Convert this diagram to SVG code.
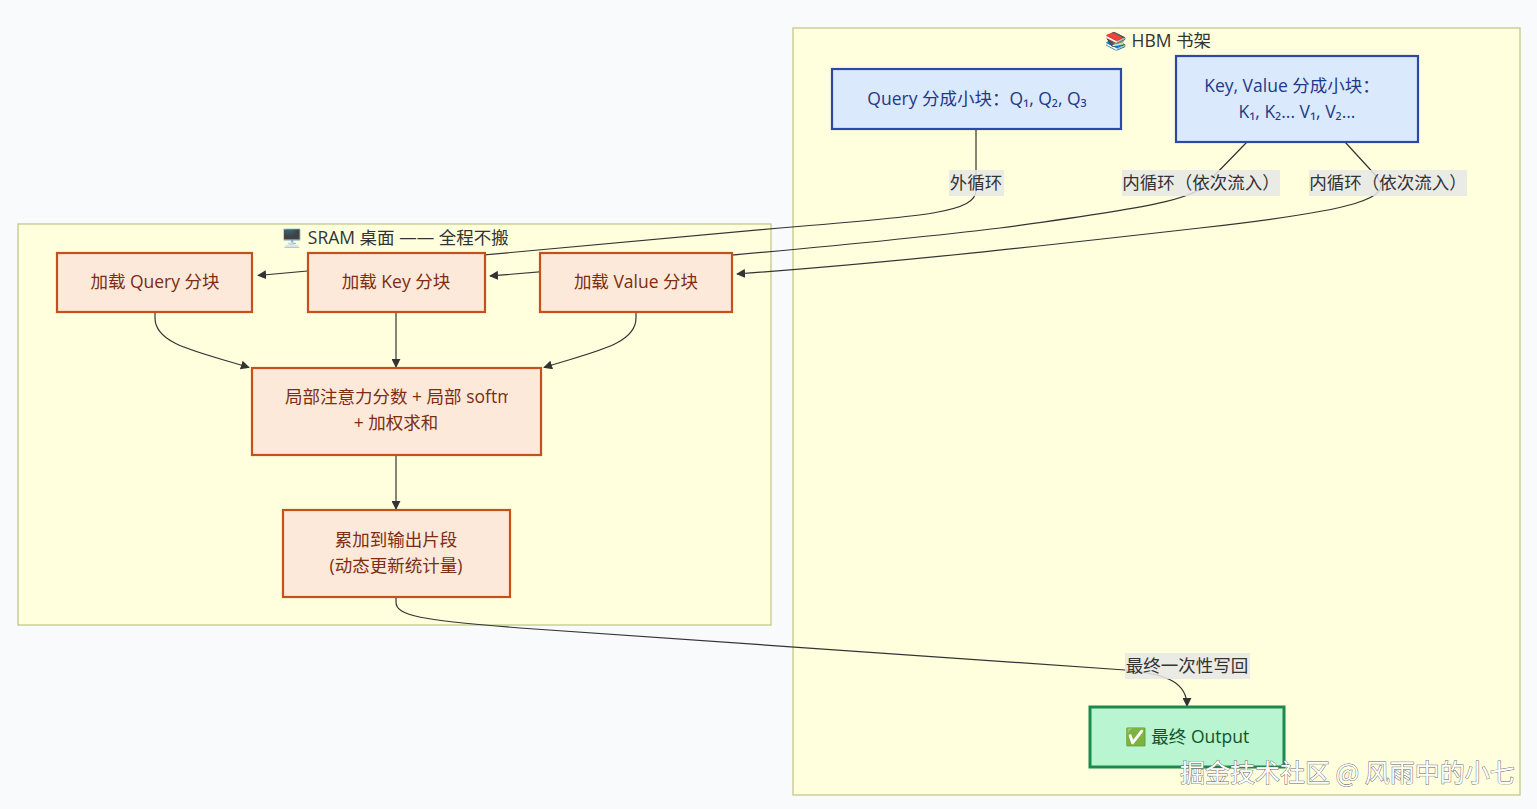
<svg xmlns="http://www.w3.org/2000/svg" width="1537" height="809" viewBox="0 0 1537 809">
<style>
text{font-family:"Open Sans","Noto Sans CJK SC",sans-serif;font-size:17.5px}
.cl{fill:#ffffde;stroke:#c2c98a;stroke-width:1.3}
.ct{fill:#333;text-anchor:middle}
.hb{fill:#dbe9fd;stroke:#2b4aa3;stroke-width:2.2}
.hbt{fill:#1e3a8a;text-anchor:middle}
.sr{fill:#fde9d9;stroke:#c4501c;stroke-width:2.2}
.srt{fill:#7c2d12;text-anchor:middle}
.ok{fill:#b9f5d0;stroke:#1b8a4c;stroke-width:3}
.okt{fill:#14532d;text-anchor:middle}
.e{fill:none;stroke:#333;stroke-width:1.2}
.lb{fill:#e8e8e8;fill-opacity:0.85}
.lt{fill:#333;text-anchor:middle}
.wm{font-family:"Noto Sans CJK SC",sans-serif;font-size:25px;fill:#fff;stroke:#666;stroke-width:0.9;paint-order:stroke}
</style>
<defs>
<marker id="ah" viewBox="0 0 10 10" refX="9" refY="5" markerWidth="9" markerHeight="9" orient="auto-start-reverse" markerUnits="userSpaceOnUse">
<path d="M0,0 L10,5 L0,10 z" fill="#333"/>
</marker>
<clipPath id="clipA"><rect x="253" y="370" width="255" height="84"/></clipPath>
</defs>
<rect x="0" y="0" width="1537" height="809" fill="#f8fafc"/>

<g id="cluster-hbm">
<rect class="cl" x="793" y="28" width="727" height="767"/>
<text class="ct" x="1158" y="47">📚 HBM 书架</text>
</g>
<g id="cluster-sram">
<rect class="cl" x="18" y="224" width="753" height="401"/>
<text class="ct" x="395" y="244">🖥️ SRAM 桌面 —— 全程不搬</text>
</g>

<g id="connectors">
<path class="e" d="M976,129 L976,190 C976,212 930,216 780,228 L258,275.5" marker-end="url(#ah)"/>
<path class="e" d="M1247,142 L1212,178 C1198,198 1170,205 1000,228 C900,240 780,252 490,276" marker-end="url(#ah)"/>
<path class="e" d="M1345,142 L1378,178 C1392,198 1360,210 1200,228 C1050,245 900,262 737,274" marker-end="url(#ah)"/>
<path class="e" d="M155,312 L155,318 C155,345 200,352 249,367.5" marker-end="url(#ah)"/>
<path class="e" d="M396,312 L396,367" marker-end="url(#ah)"/>
<path class="e" d="M636,312 L636,318 C636,345 592,352 544,367.5" marker-end="url(#ah)"/>
<path class="e" d="M396,455 L396,509" marker-end="url(#ah)"/>
<path class="e" d="M396,597 L396,602 C396,616 420,620 520,628 L1125,670 C1170,674 1187,684 1187,706" marker-end="url(#ah)"/>
<g id="edge-labels">
<rect class="lb" x="949" y="170" width="55" height="26"/>
<text class="lt" x="976" y="189">外循环</text>
<rect class="lb" x="1122" y="170" width="158" height="26"/>
<text class="lt" x="1201" y="189">内循环（依次流入）</text>
<rect class="lb" x="1309" y="170" width="158" height="26"/>
<text class="lt" x="1388" y="189">内循环（依次流入）</text>
<rect class="lb" x="1125" y="653" width="125" height="26"/>
<text class="lt" x="1187" y="672">最终一次性写回</text>
</g>
</g>

<g id="node-query">
<rect class="hb" x="832" y="69" width="289" height="60"/>
<text class="hbt" x="977" y="105">Query 分成小块：Q₁, Q₂, Q₃</text>
</g>
<g id="node-kv">
<rect class="hb" x="1176" y="56" width="242" height="86"/>
<text class="hbt" x="1292" y="92">Key, Value 分成小块：</text>
<text class="hbt" x="1297" y="118">K₁, K₂... V₁, V₂...</text>
</g>
<g id="node-loadq">
<rect class="sr" x="57" y="253" width="195" height="59"/>
<text class="srt" x="155" y="288">加载 Query 分块</text>
</g>
<g id="node-loadk">
<rect class="sr" x="308" y="253" width="177" height="59"/>
<text class="srt" x="396" y="288">加载 Key 分块</text>
</g>
<g id="node-loadv">
<rect class="sr" x="540" y="253" width="192" height="59"/>
<text class="srt" x="636" y="288">加载 Value 分块</text>
</g>
<g id="node-attn">
<rect class="sr" x="252" y="368" width="289" height="87"/>
<text class="srt" x="285" y="403" style="text-anchor:start" clip-path="url(#clipA)">局部注意力分数 + 局部 softmax</text>
<text class="srt" x="396" y="429">+ 加权求和</text>
</g>
<g id="node-acc">
<rect class="sr" x="283" y="510" width="227" height="87"/>
<text class="srt" x="396" y="546">累加到输出片段</text>
<text class="srt" x="396" y="572">(动态更新统计量)</text>
</g>
<g id="node-output">
<rect class="ok" x="1090" y="707" width="194" height="60"/>
<text class="okt" x="1187" y="743">✅ 最终 Output</text>
</g>
<text class="wm" x="1180" y="782">掘金技术社区 @ 风雨中的小七</text>
</svg>
